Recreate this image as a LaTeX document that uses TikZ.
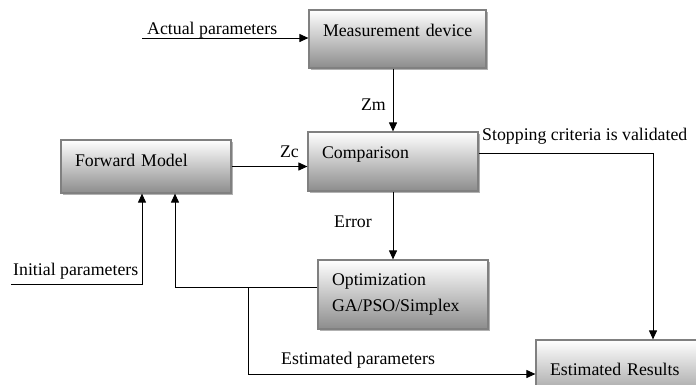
\documentclass[tikz,border=0pt]{standalone}
\usepackage{fontspec}
\setmainfont{Liberation Serif}
\usetikzlibrary{arrows.meta,shadows}

\tikzset{
  block/.style={draw=gray, line width=1.2pt, top color=white, bottom color=black!45,
    drop shadow={shadow xshift=2pt, shadow yshift=-2pt, fill=black, opacity=0.3},
    align=left, inner xsep=14pt, inner ysep=0pt},
  oneline/.style={text height=13pt, text depth=#1},
  arr/.style={-{Triangle[length=9pt,width=8pt]}, line width=1pt},
  lbl/.style={inner sep=0pt}
}

\begin{document}
\begin{tikzpicture}[x=1pt, y=-1pt, font=\fontsize{17.8}{26}\selectfont]
  \useasboundingbox (0,0) rectangle (696,384);
  \clip (0,0) rectangle (696,384);
  % boxes
  \node[block, oneline=19pt, text width=149pt, minimum height=58pt] (meas) at (397.5,39) {\mbox{Measurement device}};
  \node[block, oneline=14pt, text width=142pt, minimum height=53pt] (fwd) at (146,166.5) {Forward Model};
  \node[block, oneline=20pt, text width=142pt, minimum height=59pt] (comp) at (393,161.5) {Comparison};
  \node[block, text width=142pt, minimum height=69pt] (optim) at (403,294.5) {Optimization\\GA/PSO/Simplex};
  \node[block, oneline=11pt, text width=206pt, minimum height=68pt] (est) at (653,374) {Estimated Results};

  % connectors
  \coordinate (actin) at (142,38);
  \coordinate (initin) at (11,284);
  \coordinate (split) at (248,287);
  \draw[arr] (actin) -- (actin -| meas.west);
  \draw[arr] (meas.south -| comp.north) -- (comp.north);
  \draw[arr] (fwd.east) -- (comp.west |- fwd.east);
  \draw[arr] (comp.south) -- (comp.south |- optim.north);
  \draw[arr] ([yshift=8.5pt]comp.east) -| (est.north);
  \draw[arr] (initin) -| ([xshift=-4pt]fwd.south);
  \draw[arr] ([yshift=7.5pt]optim.west) -| ([xshift=29pt]fwd.south);
  \draw[arr] (split) |- (est.west);

  % labels
  \node[lbl, anchor=base west] (actlbl) at (147,34) {Actual parameters};
  \node[lbl, anchor=base east] (zmlbl) at (386,110) {Zm};
  \node[lbl, anchor=base east] (zclbl) at (299,157) {Zc};
  \node[lbl, anchor=base west] (errlbl) at (334,227) {Error};
  \node[lbl, anchor=base west] (stoplbl) at (482,140) {Stopping criteria is validated};
  \node[lbl, anchor=base west] (initlbl) at (13,275) {Initial parameters};
  \node[lbl, anchor=base west] (estlbl) at (281,364) {Estimated parameters};
\end{tikzpicture}
\end{document}
